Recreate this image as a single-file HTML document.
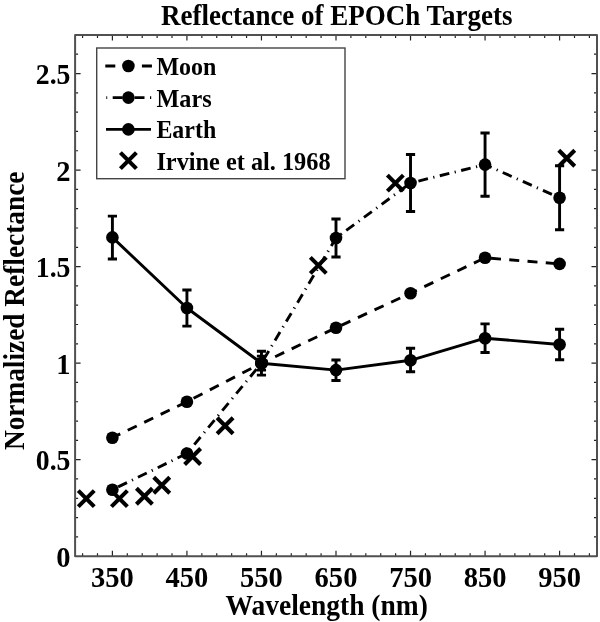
<!DOCTYPE html><html><head><meta charset="utf-8"><style>html,body{margin:0;padding:0;background:#fff;}svg{display:block;will-change:transform}</style></head><body>
<svg width="600" height="622" viewBox="0 0 600 622">
<rect x="0" y="0" width="600" height="622" fill="#fff"/>
<path d="M82.58 556.20V553.20M82.58 35.00V38.00M97.49 556.20V553.20M97.49 35.00V38.00M112.40 556.20V550.70M112.40 35.00V40.50M127.30 556.20V553.20M127.30 35.00V38.00M142.21 556.20V553.20M142.21 35.00V38.00M157.12 556.20V553.20M157.12 35.00V38.00M172.02 556.20V553.20M172.02 35.00V38.00M186.93 556.20V550.70M186.93 35.00V40.50M201.84 556.20V553.20M201.84 35.00V38.00M216.74 556.20V553.20M216.74 35.00V38.00M231.65 556.20V553.20M231.65 35.00V38.00M246.56 556.20V553.20M246.56 35.00V38.00M261.46 556.20V550.70M261.46 35.00V40.50M276.37 556.20V553.20M276.37 35.00V38.00M291.28 556.20V553.20M291.28 35.00V38.00M306.18 556.20V553.20M306.18 35.00V38.00M321.09 556.20V553.20M321.09 35.00V38.00M336.00 556.20V550.70M336.00 35.00V40.50M350.90 556.20V553.20M350.90 35.00V38.00M365.81 556.20V553.20M365.81 35.00V38.00M380.72 556.20V553.20M380.72 35.00V38.00M395.62 556.20V553.20M395.62 35.00V38.00M410.53 556.20V550.70M410.53 35.00V40.50M425.44 556.20V553.20M425.44 35.00V38.00M440.34 556.20V553.20M440.34 35.00V38.00M455.25 556.20V553.20M455.25 35.00V38.00M470.15 556.20V553.20M470.15 35.00V38.00M485.06 556.20V550.70M485.06 35.00V40.50M499.97 556.20V553.20M499.97 35.00V38.00M514.87 556.20V553.20M514.87 35.00V38.00M529.78 556.20V553.20M529.78 35.00V38.00M544.69 556.20V553.20M544.69 35.00V38.00M559.59 556.20V550.70M559.59 35.00V40.50M574.50 556.20V553.20M574.50 35.00V38.00M589.41 556.20V553.20M589.41 35.00V38.00M75.10 536.89H78.10M597.00 536.89H594.00M75.10 517.59H78.10M597.00 517.59H594.00M75.10 498.28H78.10M597.00 498.28H594.00M75.10 478.97H78.10M597.00 478.97H594.00M75.10 459.67H80.60M597.00 459.67H591.50M75.10 440.36H78.10M597.00 440.36H594.00M75.10 421.05H78.10M597.00 421.05H594.00M75.10 401.74H78.10M597.00 401.74H594.00M75.10 382.44H78.10M597.00 382.44H594.00M75.10 363.13H80.60M597.00 363.13H591.50M75.10 343.82H78.10M597.00 343.82H594.00M75.10 324.52H78.10M597.00 324.52H594.00M75.10 305.21H78.10M597.00 305.21H594.00M75.10 285.90H78.10M597.00 285.90H594.00M75.10 266.60H80.60M597.00 266.60H591.50M75.10 247.29H78.10M597.00 247.29H594.00M75.10 227.98H78.10M597.00 227.98H594.00M75.10 208.67H78.10M597.00 208.67H594.00M75.10 189.37H78.10M597.00 189.37H594.00M75.10 170.06H80.60M597.00 170.06H591.50M75.10 150.75H78.10M597.00 150.75H594.00M75.10 131.45H78.10M597.00 131.45H594.00M75.10 112.14H78.10M597.00 112.14H594.00M75.10 92.83H78.10M597.00 92.83H594.00M75.10 73.53H80.60M597.00 73.53H591.50M75.10 54.22H78.10M597.00 54.22H594.00" stroke="#222" stroke-width="1.2" fill="none"/>
<rect x="75.1" y="35.0" width="521.90" height="521.20" fill="none" stroke="#505050" stroke-width="2" stroke-linejoin="round"/>
<text x="70.5" y="567.00" text-anchor="end" font-family="Liberation Serif" font-weight="bold" font-size="30" textLength="14.25" lengthAdjust="spacingAndGlyphs">0</text>
<text x="70.5" y="470.47" text-anchor="end" font-family="Liberation Serif" font-weight="bold" font-size="30" textLength="34.69" lengthAdjust="spacingAndGlyphs">0.5</text>
<text x="70.5" y="373.93" text-anchor="end" font-family="Liberation Serif" font-weight="bold" font-size="30" textLength="14.25" lengthAdjust="spacingAndGlyphs">1</text>
<text x="70.5" y="277.40" text-anchor="end" font-family="Liberation Serif" font-weight="bold" font-size="30" textLength="34.69" lengthAdjust="spacingAndGlyphs">1.5</text>
<text x="70.5" y="180.86" text-anchor="end" font-family="Liberation Serif" font-weight="bold" font-size="30" textLength="14.25" lengthAdjust="spacingAndGlyphs">2</text>
<text x="70.5" y="84.33" text-anchor="end" font-family="Liberation Serif" font-weight="bold" font-size="30" textLength="34.69" lengthAdjust="spacingAndGlyphs">2.5</text>
<text x="112.40" y="586.7" text-anchor="middle" font-family="Liberation Serif" font-weight="bold" font-size="30" textLength="42.8" lengthAdjust="spacingAndGlyphs">350</text>
<text x="186.93" y="586.7" text-anchor="middle" font-family="Liberation Serif" font-weight="bold" font-size="30" textLength="42.8" lengthAdjust="spacingAndGlyphs">450</text>
<text x="261.46" y="586.7" text-anchor="middle" font-family="Liberation Serif" font-weight="bold" font-size="30" textLength="42.8" lengthAdjust="spacingAndGlyphs">550</text>
<text x="336.00" y="586.7" text-anchor="middle" font-family="Liberation Serif" font-weight="bold" font-size="30" textLength="42.8" lengthAdjust="spacingAndGlyphs">650</text>
<text x="410.53" y="586.7" text-anchor="middle" font-family="Liberation Serif" font-weight="bold" font-size="30" textLength="42.8" lengthAdjust="spacingAndGlyphs">750</text>
<text x="485.06" y="586.7" text-anchor="middle" font-family="Liberation Serif" font-weight="bold" font-size="30" textLength="42.8" lengthAdjust="spacingAndGlyphs">850</text>
<text x="559.59" y="586.7" text-anchor="middle" font-family="Liberation Serif" font-weight="bold" font-size="30" textLength="42.8" lengthAdjust="spacingAndGlyphs">950</text>
<text x="161" y="25" font-family="Liberation Serif" font-weight="bold" font-size="28.5" textLength="351.5" lengthAdjust="spacingAndGlyphs">Reflectance of EPOCh Targets</text>
<text x="225.5" y="614.5" font-family="Liberation Serif" font-weight="bold" font-size="30" textLength="202.3" lengthAdjust="spacingAndGlyphs">Wavelength (nm)</text>
<text transform="translate(23.8 450.1) rotate(-90)" x="0" y="0" font-family="Liberation Serif" font-weight="bold" font-size="29" textLength="278.5" lengthAdjust="spacingAndGlyphs">Normalized Reflectance</text>
<path d="M112.40 237.40 L186.93 308.00 L261.46 363.20 L336.00 370.10 L410.53 360.30 L485.06 338.20 L559.59 344.50" stroke="#000" stroke-width="2.9" fill="none" stroke-linejoin="round"/>
<path d="M112.40 437.70 L186.93 401.75 L261.46 363.20 L336.00 327.80 L410.53 293.20 L485.06 257.80 L559.59 263.90" stroke="#000" stroke-width="2.9" fill="none" stroke-dasharray="10 8.31" stroke-dashoffset="1.3"/>
<path d="M112.40 489.70 L186.93 453.50 L261.46 363.20 L336.00 238.00 L410.53 183.00 L485.06 164.60 L559.59 197.80" stroke="#000" stroke-width="2.9" fill="none" stroke-dasharray="9.8 5.5 1.2 5.5" stroke-dashoffset="15.6"/>
<path d="M112.40 216.10V259.00M107.80 216.10H117.00M107.80 259.00H117.00M186.93 290.00V326.10M182.33 290.00H191.53M182.33 326.10H191.53M261.46 351.30V375.10M256.86 351.30H266.06M256.86 375.10H266.06M336.00 360.00V380.50M331.40 360.00H340.60M331.40 380.50H340.60M410.53 348.30V371.80M405.93 348.30H415.13M405.93 371.80H415.13M485.06 323.90V352.50M480.46 323.90H489.66M480.46 352.50H489.66M559.59 329.20V359.80M554.99 329.20H564.19M554.99 359.80H564.19M261.46 356.10V370.10M256.86 356.10H266.06M256.86 370.10H266.06M336.00 219.00V257.00M331.40 219.00H340.60M331.40 257.00H340.60M410.53 154.50V211.50M405.93 154.50H415.13M405.93 211.50H415.13M485.06 133.00V196.30M480.46 133.00H489.66M480.46 196.30H489.66M559.59 165.70V229.70M554.99 165.70H564.19M554.99 229.70H564.19" stroke="#000" stroke-width="2.9" fill="none"/>
<circle cx="112.40" cy="237.40" r="6.3" fill="#000"/>
<circle cx="186.93" cy="308.00" r="6.3" fill="#000"/>
<circle cx="261.46" cy="363.20" r="6.3" fill="#000"/>
<circle cx="336.00" cy="370.10" r="6.3" fill="#000"/>
<circle cx="410.53" cy="360.30" r="6.3" fill="#000"/>
<circle cx="485.06" cy="338.20" r="6.3" fill="#000"/>
<circle cx="559.59" cy="344.50" r="6.3" fill="#000"/>
<circle cx="112.40" cy="437.70" r="6.3" fill="#000"/>
<circle cx="186.93" cy="401.75" r="6.3" fill="#000"/>
<circle cx="261.46" cy="363.20" r="6.3" fill="#000"/>
<circle cx="336.00" cy="327.80" r="6.3" fill="#000"/>
<circle cx="410.53" cy="293.20" r="6.3" fill="#000"/>
<circle cx="485.06" cy="257.80" r="6.3" fill="#000"/>
<circle cx="559.59" cy="263.90" r="6.3" fill="#000"/>
<circle cx="112.40" cy="489.70" r="6.3" fill="#000"/>
<circle cx="186.93" cy="453.50" r="6.3" fill="#000"/>
<circle cx="261.46" cy="363.20" r="6.3" fill="#000"/>
<circle cx="336.00" cy="238.00" r="6.3" fill="#000"/>
<circle cx="410.53" cy="183.00" r="6.3" fill="#000"/>
<circle cx="485.06" cy="164.60" r="6.3" fill="#000"/>
<circle cx="559.59" cy="197.80" r="6.3" fill="#000"/>
<path d="M78.25 490.60L94.25 506.60M78.25 506.60L94.25 490.60M111.40 490.60L127.40 506.60M111.40 506.60L127.40 490.60M136.40 488.25L152.40 504.25M136.40 504.25L152.40 488.25M153.75 477.20L169.75 493.20M153.75 493.20L169.75 477.20M184.60 448.50L200.60 464.50M184.60 464.50L200.60 448.50M217.10 417.80L233.10 433.80M217.10 433.80L233.10 417.80M310.30 257.35L326.30 273.35M310.30 273.35L326.30 257.35M387.35 175.10L403.35 191.10M387.35 191.10L403.35 175.10M558.75 150.20L574.75 166.20M558.75 166.20L574.75 150.20" stroke="#000" stroke-width="4.1" fill="none"/>
<rect x="96.7" y="48" width="248.3" height="130.7" fill="#fff" stroke="#444" stroke-width="1.4"/>
<path d="M105.3 66H152" stroke="#000" stroke-width="2.9" stroke-dasharray="10 8.31"/>
<path d="M106.3 97.6H151.5" stroke="#000" stroke-width="2.9" stroke-dasharray="9.8 5.5 1.2 5.5" stroke-dashoffset="15.6"/>
<path d="M106 129.4H151" stroke="#000" stroke-width="2.9"/>
<circle cx="128.4" cy="66" r="6.3" fill="#000"/>
<circle cx="128.4" cy="97.6" r="6.3" fill="#000"/>
<circle cx="128.4" cy="129.4" r="6.3" fill="#000"/>
<path d="M120.40 152.60L136.40 168.60M120.40 168.60L136.40 152.60" stroke="#000" stroke-width="4.1"/>
<text x="156.4" y="75.00" font-family="Liberation Serif" font-weight="bold" font-size="26" textLength="60.0" lengthAdjust="spacingAndGlyphs">Moon</text>
<text x="156.4" y="106.60" font-family="Liberation Serif" font-weight="bold" font-size="26" textLength="55.2" lengthAdjust="spacingAndGlyphs">Mars</text>
<text x="156.4" y="138.40" font-family="Liberation Serif" font-weight="bold" font-size="26" textLength="59.8" lengthAdjust="spacingAndGlyphs">Earth</text>
<text x="156.4" y="169.60" font-family="Liberation Serif" font-weight="bold" font-size="26" textLength="174.2" lengthAdjust="spacingAndGlyphs">Irvine et al. 1968</text>
</svg></body></html>
